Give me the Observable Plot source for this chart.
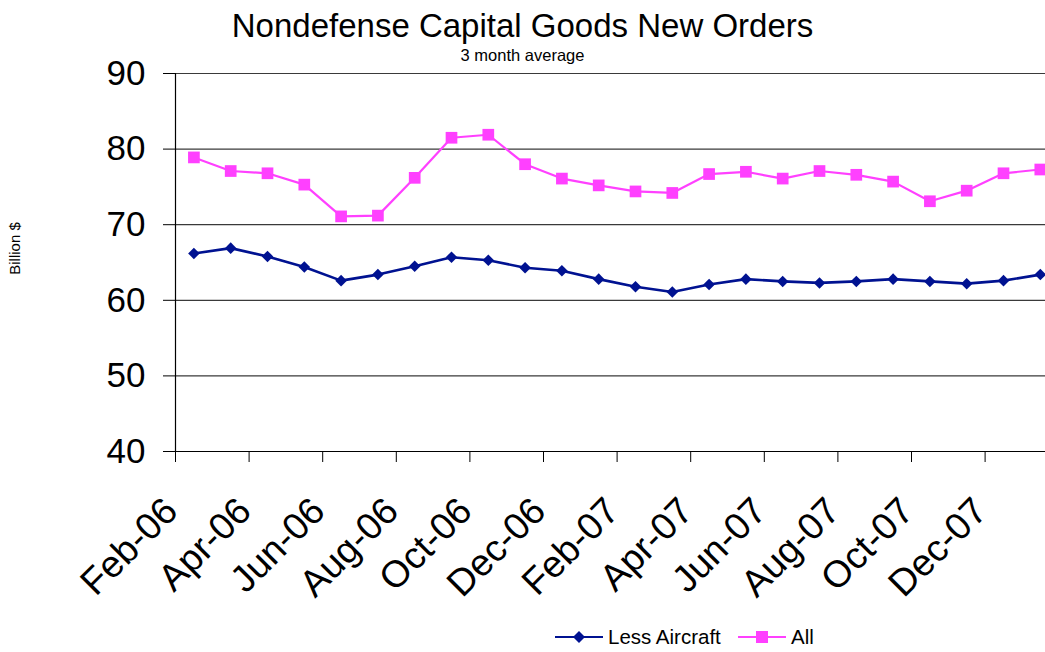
<!DOCTYPE html>
<html>
<head>
<meta charset="utf-8">
<script src="https://cdn.jsdelivr.net/npm/d3@7"></script>
<script src="https://cdn.jsdelivr.net/npm/@observablehq/plot@0.6"></script>
<style>
  html, body { margin: 0; padding: 0; background: #fff; width: 1045px; height: 652px; overflow: hidden; }
  body { font-family: "Liberation Sans", Arial, sans-serif; color: #000; }
  #title { height: 48px; box-sizing: border-box; padding-top: 4px; font-size: 33px; line-height: 44px; text-align: center; white-space: nowrap; }
  #chart { position: relative; }
  #sub { position: absolute; left: 0; top: 0; width: 1045px; z-index: 2; height: 14px; font-size: 16.5px; line-height: 14px; text-align: center; white-space: nowrap; }
  #chart svg { display: block; }
  #legend { height: 30px; position: relative; font-size: 20.5px; line-height: 30px; }
  #legend .item { position: absolute; top: 0; display: flex; align-items: center; height: 30px; }
  #legend svg { display: block; margin-right: 5px; }
</style>
</head>
<body>
<div id="title">Nondefense Capital Goods New Orders</div>
<div id="chart"><div id="sub">3 month average</div></div>
<div id="legend"></div>
<script>
const months = ["Feb-06","Mar-06","Apr-06","May-06","Jun-06","Jul-06","Aug-06","Sep-06","Oct-06","Nov-06","Dec-06","Jan-07",
                "Feb-07","Mar-07","Apr-07","May-07","Jun-07","Jul-07","Aug-07","Sep-07","Oct-07","Nov-07","Dec-07","Jan-08"];
const allOrders = [78.9, 77.1, 76.8, 75.3, 71.1, 71.2, 76.2, 81.5, 81.9, 78.0, 76.1, 75.2,
                   74.4, 74.2, 76.7, 77.0, 76.1, 77.1, 76.6, 75.7, 73.1, 74.5, 76.8, 77.3];
const lessAircraft = [66.2, 66.9, 65.8, 64.4, 62.6, 63.4, 64.5, 65.7, 65.3, 64.3, 63.9, 62.8,
                      61.8, 61.1, 62.1, 62.8, 62.5, 62.3, 62.5, 62.8, 62.5, 62.2, 62.6, 63.4];
const yTicks = [40, 50, 60, 70, 80, 90];
const gridValues = [50, 60, 70, 80, 90];
const seriesNames = ["Less Aircraft", "All"];
const colors = {"Less Aircraft": "#001291", "All": "#FF40FF"};

const rows = months.map((m, i) => ({month: m, idx: i}));
const blueData = rows.map(r => ({...r, value: lessAircraft[r.idx]}));
const pinkData = rows.map(r => ({...r, value: allOrders[r.idx]}));
const labelRows = rows.filter(r => r.idx % 2 === 0);
const boundaries = labelRows.map(r => r.idx); // category boundaries every 2 months
const xPos = d => d.idx + 0.5;

const chart = Plot.plot({
  width: 1045,
  height: 574,
  marginTop: 25,
  marginBottom: 171,
  marginLeft: 175,
  marginRight: 0,
  style: {fontFamily: "'Liberation Sans', Arial, sans-serif", fontSize: "35px", color: "#000", background: "#fff"},
  x: {type: "linear", domain: [0, months.length], range: [175, 175 + months.length * 36.8],
      ticks: boundaries, tickSize: 11, tickFormat: () => "", label: null},
  y: {domain: [40, 90], ticks: yTicks, tickSize: 12, tickPadding: 18, label: null},
  marks: [
    Plot.ruleY(gridValues, {stroke: "#3a3a3a", strokeWidth: 1.2}),
    Plot.ruleY([40], {stroke: "#000", strokeWidth: 1.2}),
    Plot.ruleX([0], {x: d => d, y1: 40, y2: 90, stroke: "#000", strokeWidth: 1.2}),
    Plot.line(pinkData, {x: xPos, y: "value", stroke: colors["All"], strokeWidth: 2.2}),
    Plot.dot(pinkData, {x: xPos, y: "value", symbol: "square", r: 6.6, fill: colors["All"], stroke: null}),
    Plot.line(blueData, {x: xPos, y: "value", stroke: colors["Less Aircraft"], strokeWidth: 2.6}),
    Plot.dot(blueData, {x: xPos, y: "value", symbol: "diamond2", r: 5.2, fill: colors["Less Aircraft"], stroke: null}),
    Plot.text(labelRows, {x: xPos, frameAnchor: "bottom", text: "month", rotate: -45, textAnchor: "end",
      lineAnchor: "top", dx: -33, dy: 43, fontSize: 37.5, fill: "#000"}),
    Plot.text(["Billion $"], {frameAnchor: "left", text: d => d, rotate: -90, textAnchor: "middle",
      lineAnchor: "middle", dx: -160, dy: -14, fontSize: 15, fill: "#000"})
  ]
});
document.getElementById("chart").appendChild(chart);

// Legend
const legend = document.getElementById("legend");
const items = [
  {name: seriesNames[0], left: 555, symbol: "diamond"},
  {name: seriesNames[1], left: 738, symbol: "square"}
];
for (const it of items) {
  const div = document.createElement("div");
  div.className = "item";
  div.style.left = it.left + "px";
  const c = colors[it.name];
  const marker = it.symbol === "square"
    ? `<rect x="18" y="9" width="12" height="12" fill="${c}"/>`
    : `<path d="M24 9 L30 15 L24 21 L18 15 Z" fill="${c}"/>`;
  div.innerHTML = `<svg width="48" height="30"><line x1="0" x2="48" y1="15" y2="15" stroke="${c}" stroke-width="2"/>${marker}</svg><span>${it.name}</span>`;
  legend.appendChild(div);
}
</script>
</body>
</html>
